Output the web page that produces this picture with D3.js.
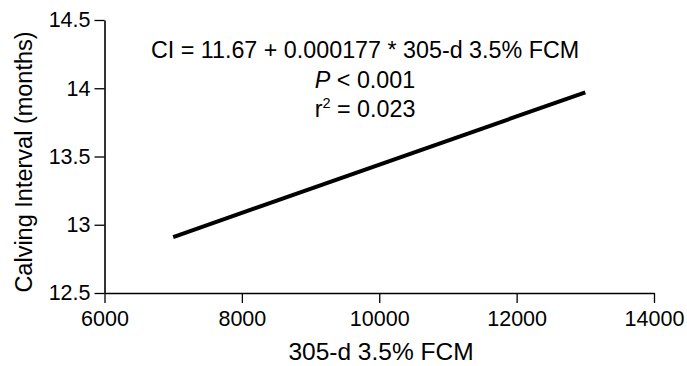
<!DOCTYPE html>
<html>
<head>
<meta charset="utf-8">
<script src="https://cdn.jsdelivr.net/npm/d3@7"></script>
<style>
  body { margin: 0; background: #fff; }
  text { font-family: "Liberation Sans", Arial, sans-serif; fill: #000; }
</style>
</head>
<body>
<script>
// data
var fcm = [7000, 13000];
var calvingInterval = [12.91, 13.97];
var xTicks = [6000, 8000, 10000, 12000, 14000];
var yTicks = [12.5, 13, 13.5, 14, 14.5];
var yTickLabels = ["12.5", "13", "13.5", "14", "14.5"];
var noteLines = ["CI = 11.67 + 0.000177 * 305-d 3.5% FCM", "P < 0.001", "r2 = 0.023"];

var width = 687, height = 366;
var margin = {top: 20, right: 33, bottom: 73, left: 104.5};

var svg = d3.select("body").append("svg")
  .attr("width", width)
  .attr("height", height);

var xScale = d3.scaleLinear().domain([6000, 14000]).range([margin.left, width - margin.right]);
var yScale = d3.scaleLinear().domain([12.5, 14.5]).range([height - margin.bottom, margin.top]);

// eixos
var xAxis = d3.axisBottom(xScale)
  .tickValues(xTicks)
  .tickSize(10)
  .tickPadding(8)
  .tickSizeOuter(0)
  .tickFormat(d3.format("d"));
svg.append("g")
  .attr("transform", "translate(0," + yScale(12.5) + ")")
  .call(xAxis);

var yAxis = d3.axisLeft(yScale)
  .tickValues(yTicks)
  .tickSize(10)
  .tickPadding(4)
  .tickSizeOuter(0)
  .tickFormat(function(d, i) { return yTickLabels[i]; });
svg.append("g")
  .attr("transform", "translate(" + xScale(6000) + ",0)")
  .call(yAxis);

svg.selectAll(".domain").attr("stroke", "#000").attr("stroke-width", 1.6);
svg.selectAll(".tick line").attr("stroke", "#000").attr("stroke-width", 1.3);
svg.selectAll(".tick text").style("font-size", "21.5px").attr("fill", "#000");

// titulos
svg.append("text")
  .attr("x", 381)
  .attr("y", 360)
  .attr("text-anchor", "middle")
  .style("font-size", "24.5px")
  .text("305-d 3.5% FCM");

svg.append("text")
  .attr("transform", "translate(32,162) rotate(-90)")
  .attr("text-anchor", "middle")
  .style("font-size", "23.5px")
  .text("Calving Interval (months)");

// anotacao
var cx = 365;
svg.append("text")
  .attr("x", cx).attr("y", 58)
  .attr("text-anchor", "middle")
  .style("font-size", "23.3px")
  .text(noteLines[0]);

var t2 = svg.append("text")
  .attr("x", cx).attr("y", 87.5)
  .attr("text-anchor", "middle")
  .style("font-size", "23.3px");
t2.append("tspan").style("font-style", "italic").text("P");
t2.append("tspan").text(" < 0.001");

var t3 = svg.append("text")
  .attr("x", cx).attr("y", 117)
  .attr("text-anchor", "middle")
  .style("font-size", "23.3px");
t3.append("tspan").text("r");
t3.append("tspan").attr("dy", -9).style("font-size", "14.5px").text("2");
t3.append("tspan").attr("dy", 9).text(" = 0.023");

// linha de regressao
var line = d3.line()
  .x(function(d) { return xScale(d[0]); })
  .y(function(d) { return yScale(d[1]); });

svg.append("path")
  .datum(d3.zip(fcm, calvingInterval))
  .attr("fill", "none")
  .attr("stroke", "#000")
  .attr("stroke-width", 4)
  .attr("d", line);
</script>
</body>
</html>
